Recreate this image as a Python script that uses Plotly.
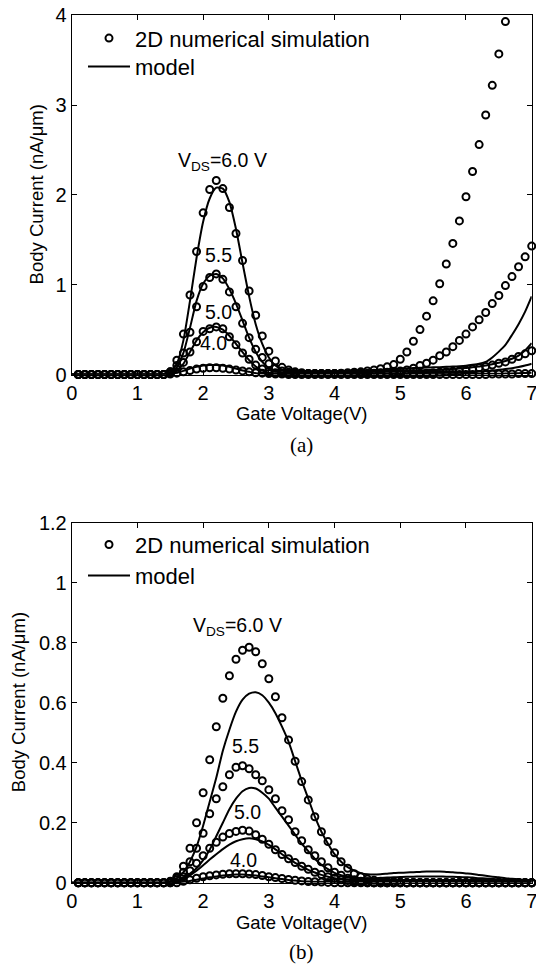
import plotly.graph_objects as go

# ---------------- data ----------------
GATE_SIM = [0.1, 0.2, 0.3, 0.4, 0.5, 0.6, 0.7, 0.8, 0.9, 1.0,
            1.1, 1.2, 1.3, 1.4, 1.5, 1.6, 1.7, 1.8, 1.9, 2.0,
            2.1, 2.2, 2.3, 2.4, 2.5, 2.6, 2.7, 2.8, 2.9, 3.0,
            3.1, 3.2, 3.3, 3.4, 3.5, 3.6, 3.7, 3.8, 3.9, 4.0,
            4.1, 4.2, 4.3, 4.4, 4.5, 4.6, 4.7, 4.8, 4.9, 5.0,
            5.1, 5.2, 5.3, 5.4, 5.5, 5.6, 5.7, 5.8, 5.9, 6.0,
            6.1, 6.2, 6.3, 6.4, 6.5, 6.6, 6.7, 6.8, 6.9, 7.0]
GATE_MODEL = [0.0] + GATE_SIM

VDS_LABELS = ["6.0", "5.5", "5.0", "4.0"]

# panel (a): simulation
A_SIM_60 = [0, 0, 0, 0, 0, 0, 0, 0, 0, 0,
            0, 0, 0, 0, 0.03, 0.16, 0.45, 0.885, 1.37, 1.80,
            2.06, 2.16, 2.07, 1.86, 1.57, 1.27, 0.93, 0.66, 0.43, 0.26,
            0.15, 0.08, 0.05, 0.03, 0.02, 0.01, 0.01, 0.01, 0.01, 0.01,
            0.015, 0.02, 0.025, 0.03, 0.04, 0.05, 0.065, 0.085, 0.11, 0.17,
            0.25, 0.37, 0.50, 0.65, 0.82, 1.01, 1.23, 1.46, 1.71, 1.98,
            2.26, 2.56, 2.89, 3.22, 3.57, 3.93, 4.30, 4.68, 5.07, 5.47]
A_SIM_55 = [0, 0, 0, 0, 0, 0, 0, 0, 0, 0,
            0, 0, 0, 0, 0.03, 0.10, 0.24, 0.47, 0.755, 0.98,
            1.08, 1.12, 1.06, 0.92, 0.755, 0.57, 0.41, 0.28, 0.19, 0.12,
            0.07, 0.04, 0.025, 0.015, 0.01, 0.01, 0.01, 0.01, 0.01, 0.01,
            0.01, 0.01, 0.01, 0.01, 0.01, 0.015, 0.02, 0.025, 0.03, 0.04,
            0.05, 0.07, 0.10, 0.125, 0.16, 0.21, 0.25, 0.31, 0.38, 0.45,
            0.53, 0.61, 0.69, 0.79, 0.88, 0.99, 1.09, 1.20, 1.31, 1.43]
A_SIM_50 = [0, 0, 0, 0, 0, 0, 0, 0, 0, 0,
            0, 0, 0, 0, 0.02, 0.06, 0.135, 0.25, 0.365, 0.48,
            0.51, 0.53, 0.51, 0.42, 0.33, 0.24, 0.17, 0.105, 0.06, 0.035,
            0.02, 0.01, 0.01, 0.01, 0.01, 0.01, 0.01, 0.01, 0.01, 0.01,
            0.01, 0.01, 0.01, 0.01, 0.01, 0.01, 0.01, 0.01, 0.01, 0.01,
            0.01, 0.01, 0.01, 0.015, 0.02, 0.025, 0.03, 0.035, 0.04, 0.05,
            0.06, 0.075, 0.09, 0.105, 0.125, 0.14, 0.17, 0.20, 0.23, 0.265]
A_SIM_40 = [0, 0, 0, 0, 0, 0, 0, 0, 0, 0,
            0, 0, 0, 0, 0.005, 0.015, 0.03, 0.045, 0.06, 0.07,
            0.075, 0.075, 0.07, 0.06, 0.05, 0.04, 0.03, 0.02, 0.015, 0.01,
            0.005, 0.005, 0, 0, 0, 0, 0, 0, 0, 0,
            0, 0, 0, 0, 0, 0, 0, 0, 0, 0,
            0, 0, 0, 0, 0, 0, 0, 0, 0, 0,
            0, 0, 0, 0.005, 0.005, 0.005, 0.005, 0.01, 0.01, 0.01]

# panel (a): model
A_MOD_60 = [0,
            0, 0, 0, 0, 0, 0, 0, 0, 0, 0,
            0, 0, 0, 0.005, 0.03, 0.12, 0.38, 0.82, 1.30, 1.70,
            1.96, 2.08, 2.07, 1.92, 1.62, 1.24, 0.87, 0.56, 0.34, 0.19,
            0.10, 0.055, 0.035, 0.025, 0.02, 0.02, 0.022, 0.024, 0.026, 0.028,
            0.03, 0.033, 0.036, 0.04, 0.044, 0.048, 0.052, 0.056, 0.06, 0.064,
            0.068, 0.072, 0.075, 0.078, 0.08, 0.082, 0.085, 0.088, 0.092, 0.098,
            0.108, 0.12, 0.14, 0.19, 0.255, 0.33, 0.44, 0.56, 0.70, 0.87]
A_MOD_55 = [0,
            0, 0, 0, 0, 0, 0, 0, 0, 0, 0,
            0, 0, 0, 0, 0.02, 0.08, 0.24, 0.52, 0.82, 1.01,
            1.10, 1.12, 1.07, 0.95, 0.79, 0.60, 0.41, 0.25, 0.14, 0.07,
            0.035, 0.02, 0.016, 0.015, 0.015, 0.016, 0.017, 0.018, 0.019, 0.02,
            0.021, 0.022, 0.024, 0.026, 0.028, 0.03, 0.032, 0.034, 0.036, 0.038,
            0.04, 0.042, 0.045, 0.048, 0.05, 0.053, 0.057, 0.061, 0.066, 0.072,
            0.08, 0.09, 0.10, 0.115, 0.13, 0.15, 0.175, 0.21, 0.27, 0.35]
A_MOD_50 = [0,
            0, 0, 0, 0, 0, 0, 0, 0, 0, 0,
            0, 0, 0, 0, 0.01, 0.04, 0.12, 0.25, 0.38, 0.47,
            0.52, 0.53, 0.50, 0.43, 0.34, 0.25, 0.16, 0.09, 0.045, 0.02,
            0.012, 0.01, 0.01, 0.01, 0.01, 0.01, 0.01, 0.01, 0.01, 0.01,
            0.01, 0.01, 0.01, 0.011, 0.011, 0.012, 0.012, 0.013, 0.013, 0.014,
            0.015, 0.016, 0.017, 0.018, 0.019, 0.02, 0.021, 0.022, 0.024, 0.026,
            0.029, 0.033, 0.038, 0.044, 0.052, 0.06, 0.07, 0.083, 0.10, 0.12]
A_MOD_40 = [0,
            0, 0, 0, 0, 0, 0, 0, 0, 0, 0,
            0, 0, 0, 0, 0.005, 0.02, 0.04, 0.065, 0.085, 0.10,
            0.105, 0.105, 0.10, 0.085, 0.065, 0.045, 0.03, 0.015, 0.008, 0.004,
            0.003, 0.003, 0.003, 0.003, 0.003, 0.003, 0.003, 0.003, 0.003, 0.003,
            0.003, 0.003, 0.003, 0.003, 0.003, 0.003, 0.003, 0.003, 0.003, 0.003,
            0.004, 0.004, 0.004, 0.004, 0.004, 0.004, 0.004, 0.004, 0.004, 0.004,
            0.005, 0.006, 0.007, 0.008, 0.009, 0.01, 0.012, 0.014, 0.017, 0.02]

# panel (b): simulation
B_SIM_60 = [0, 0, 0, 0, 0, 0, 0, 0, 0, 0,
            0, 0, 0, 0, 0, 0.02, 0.055, 0.115, 0.20, 0.30,
            0.41, 0.52, 0.615, 0.69, 0.745, 0.775, 0.785, 0.77, 0.73, 0.68,
            0.62, 0.55, 0.476, 0.405, 0.337, 0.276, 0.22, 0.17, 0.137, 0.10,
            0.07, 0.048, 0.03, 0.02, 0.012, 0.008, 0.005, 0.004, 0.003, 0.002,
            0, 0, 0, 0, 0, 0, 0, 0, 0, 0,
            0, 0, 0, 0, 0, 0, 0, 0, 0, 0]
B_SIM_55 = [0, 0, 0, 0, 0, 0, 0, 0, 0, 0,
            0, 0, 0, 0, 0.005, 0.015, 0.035, 0.07, 0.115, 0.165,
            0.23, 0.28, 0.32, 0.36, 0.385, 0.39, 0.38, 0.36, 0.34, 0.31,
            0.28, 0.24, 0.21, 0.17, 0.14, 0.11, 0.09, 0.07, 0.05, 0.035,
            0.025, 0.015, 0.01, 0.005, 0.003, 0, 0, 0, 0, 0,
            0, 0, 0, 0, 0, 0, 0, 0, 0, 0,
            0, 0, 0, 0, 0, 0, 0, 0, 0, 0]
B_SIM_50 = [0, 0, 0, 0, 0, 0, 0, 0, 0, 0,
            0, 0, 0, 0, 0.003, 0.01, 0.02, 0.04, 0.065, 0.09,
            0.115, 0.135, 0.152, 0.164, 0.171, 0.175, 0.172, 0.16, 0.145, 0.128,
            0.11, 0.094, 0.08, 0.067, 0.055, 0.045, 0.035, 0.027, 0.02, 0.015,
            0.01, 0.007, 0.004, 0.002, 0, 0, 0, 0, 0, 0,
            0, 0, 0, 0, 0, 0, 0, 0, 0, 0,
            0, 0, 0, 0, 0, 0, 0, 0, 0, 0]
B_SIM_40 = [0, 0, 0, 0, 0, 0, 0, 0, 0, 0,
            0, 0, 0, 0, 0, 0, 0.005, 0.01, 0.015, 0.02,
            0.023, 0.026, 0.028, 0.03, 0.03, 0.03, 0.029, 0.027, 0.024, 0.02,
            0.017, 0.014, 0.011, 0.008, 0.006, 0.004, 0.003, 0.002, 0.001, 0,
            0, 0, 0, 0, 0, 0, 0, 0, 0, 0,
            0, 0, 0, 0, 0, 0, 0, 0, 0, 0,
            0, 0, 0, 0, 0, 0, 0, 0, 0, 0]

# panel (b): model
B_MOD_60 = [0,
            0, 0, 0, 0, 0, 0, 0, 0, 0, 0,
            0, 0, 0, 0, 0.005, 0.015, 0.035, 0.07, 0.12, 0.19,
            0.27, 0.35, 0.44, 0.51, 0.57, 0.61, 0.63, 0.635, 0.625, 0.60,
            0.565, 0.52, 0.47, 0.405, 0.34, 0.28, 0.22, 0.17, 0.13, 0.095,
            0.07, 0.052, 0.04, 0.032, 0.028, 0.027, 0.028, 0.03, 0.032, 0.033,
            0.034, 0.035, 0.036, 0.037, 0.037, 0.037, 0.036, 0.035, 0.033, 0.031,
            0.029, 0.026, 0.023, 0.02, 0.018, 0.015, 0.013, 0.011, 0.009, 0.008]
B_MOD_55 = [0,
            0, 0, 0, 0, 0, 0, 0, 0, 0, 0,
            0, 0, 0, 0, 0.003, 0.008, 0.018, 0.03, 0.048, 0.075,
            0.11, 0.155, 0.20, 0.245, 0.28, 0.305, 0.316, 0.314, 0.30, 0.28,
            0.25, 0.22, 0.19, 0.16, 0.13, 0.105, 0.08, 0.06, 0.045, 0.033,
            0.025, 0.02, 0.017, 0.015, 0.015, 0.015, 0.016, 0.017, 0.018, 0.019,
            0.02, 0.02, 0.021, 0.021, 0.021, 0.021, 0.02, 0.02, 0.019, 0.018,
            0.017, 0.015, 0.014, 0.012, 0.011, 0.01, 0.009, 0.008, 0.007, 0.006]
B_MOD_50 = [0,
            0, 0, 0, 0, 0, 0, 0, 0, 0, 0,
            0, 0, 0, 0, 0.002, 0.005, 0.012, 0.025, 0.04, 0.058,
            0.077, 0.095, 0.112, 0.127, 0.138, 0.145, 0.148, 0.145, 0.138, 0.126,
            0.111, 0.095, 0.08, 0.066, 0.054, 0.043, 0.034, 0.026, 0.02, 0.015,
            0.012, 0.01, 0.009, 0.008, 0.008, 0.008, 0.008, 0.008, 0.008, 0.008,
            0.008, 0.008, 0.008, 0.008, 0.008, 0.008, 0.008, 0.008, 0.008, 0.008,
            0.007, 0.007, 0.006, 0.006, 0.006, 0.005, 0.005, 0.005, 0.004, 0.004]
B_MOD_40 = [0,
            0, 0, 0, 0, 0, 0, 0, 0, 0, 0,
            0, 0, 0, 0, 0, 0, 0.003, 0.006, 0.01, 0.014,
            0.018, 0.021, 0.024, 0.026, 0.027, 0.027, 0.026, 0.024, 0.021, 0.018,
            0.015, 0.012, 0.009, 0.007, 0.005, 0.004, 0.003, 0.003, 0.003, 0.003,
            0.003, 0.003, 0.003, 0.003, 0.003, 0.003, 0.003, 0.003, 0.003, 0.003,
            0.003, 0.003, 0.003, 0.003, 0.003, 0.003, 0.003, 0.003, 0.003, 0.003,
            0.002, 0.002, 0.002, 0.002, 0.002, 0.002, 0.002, 0.002, 0.002, 0.002]

X_TICKS = [0, 1, 2, 3, 4, 5, 6, 7]
A_Y_TICKS = [0, 1, 2, 3, 4]
B_Y_TICKS = [0, 0.2, 0.4, 0.6, 0.8, 1, 1.2]
A_YMAX = 4
B_YMAX = 1.2

# label positions (data coords)
A_LABEL_POS = [(2.29, 2.37), (2.24, 1.33), (2.24, 0.70), (2.16, 0.35)]
B_LABEL_POS = [(2.52, 0.853), (2.64, 0.456), (2.68, 0.237), (2.61, 0.076)]

# ---------------- figure ----------------
W, H = 536, 967
FONT = "Liberation Sans, Arial, Helvetica, sans-serif"

fig = go.Figure()

panels = [
    dict(xa="x", ya="y", legs=("legend", "legend2"), ymax=A_YMAX,
         sims=[A_SIM_60, A_SIM_55, A_SIM_50, A_SIM_40],
         mods=[A_MOD_60, A_MOD_55, A_MOD_50, A_MOD_40],
         labels=A_LABEL_POS),
    dict(xa="x2", ya="y2", legs=("legend3", "legend4"), ymax=B_YMAX,
         sims=[B_SIM_60, B_SIM_55, B_SIM_50, B_SIM_40],
         mods=[B_MOD_60, B_MOD_55, B_MOD_50, B_MOD_40],
         labels=B_LABEL_POS),
]

for p in panels:
    for i, s in enumerate(p["sims"]):
        xs = [x for x, v in zip(GATE_SIM, s) if v <= p["ymax"]]
        ys = [v for v in s if v <= p["ymax"]]
        fig.add_trace(go.Scatter(
            x=xs, y=ys, mode="markers", xaxis=p["xa"], yaxis=p["ya"],
            name="2D numerical simulation", legend=p["legs"][0],
            showlegend=(i == 0), cliponaxis=False,
            marker=dict(symbol="circle-open", size=7, color="black",
                        line=dict(width=2, color="black"))))
    for i, m in enumerate(p["mods"]):
        fig.add_trace(go.Scatter(
            x=GATE_MODEL, y=m, mode="lines", xaxis=p["xa"], yaxis=p["ya"],
            name="model", legend=p["legs"][1], showlegend=(i == 0),
            line=dict(color="black", width=2, shape="spline", smoothing=0.6)))

x_dom = [71.7 / W, 531.7 / W]
a_top, a_bot = 15.3, 374.5
b_top, b_bot = 522.7, 882.7
a_dom = [1 - a_bot / H, 1 - a_top / H]
b_dom = [1 - b_bot / H, 1 - b_top / H]

axis_common = dict(showline=True, linecolor="black", linewidth=1, mirror="ticks",
                   ticks="inside", ticklen=5, tickwidth=1, tickcolor="black",
                   showgrid=False, zeroline=False, automargin=False,
                   ticklabeloverflow="allow",
                   tickfont=dict(family=FONT, size=20, color="black"))
TITLE_FONT = dict(family=FONT, size=18.5, color="black")

def legend_at(y_px):
    return dict(x=83 / W, y=1 - y_px / H, xanchor="left", yanchor="middle",
                bgcolor="rgba(0,0,0,0)", borderwidth=0, itemwidth=42,
                font=dict(family=FONT, size=22, color="black"))

fig.update_layout(
    width=W, height=H,
    margin=dict(l=0, r=0, t=0, b=0, pad=0, autoexpand=False),
    paper_bgcolor="white", plot_bgcolor="white",
    font=dict(family=FONT, color="black"),
    xaxis=dict(domain=x_dom, anchor="y", range=[0, 7], tickvals=X_TICKS,
               ticklabelstandoff=0,
               title=dict(text="Gate Voltage(V)", font=TITLE_FONT, standoff=4),
               **axis_common),
    yaxis=dict(domain=a_dom, anchor="x", range=[0, A_YMAX], tickvals=A_Y_TICKS,
               **axis_common),
    xaxis2=dict(domain=x_dom, anchor="y2", range=[0, 7], tickvals=X_TICKS,
                ticklabelstandoff=0,
                title=dict(text="Gate Voltage(V)", font=TITLE_FONT, standoff=4),
                **axis_common),
    yaxis2=dict(domain=b_dom, anchor="x2", range=[0, B_YMAX], tickvals=B_Y_TICKS,
                **axis_common),
    legend=legend_at(a_top + 23),
    legend2=legend_at(a_top + 51.5),
    legend3=legend_at(b_top + 22),
    legend4=legend_at(b_top + 53),
)

# y-axis titles, placed like the reference (left of the tick labels)
for cx, cy in [(36.5, (a_top + a_bot) / 2), (18.5, (b_top + b_bot) / 2)]:
    fig.add_annotation(x=cx / W, y=1 - cy / H, xref="paper", yref="paper",
                       text="Body Current (nA/μm)", textangle=-90, showarrow=False,
                       xanchor="center", yanchor="middle", font=TITLE_FONT)

for p in panels:
    for i, (lx, ly) in enumerate(p["labels"]):
        txt = ("V<sub>DS</sub>=" + VDS_LABELS[i] + " V") if i == 0 else VDS_LABELS[i]
        fig.add_annotation(x=lx, y=ly, xref=p["xa"], yref=p["ya"], text=txt,
                           showarrow=False, font=dict(family=FONT, size=19.5, color="black"))

CAP_FONT = dict(family="Liberation Serif, DejaVu Serif, serif", size=21, color="black")
fig.add_annotation(x=301.7 / W, y=1 - 445 / H, xref="paper", yref="paper", text="(a)",
                   showarrow=False, yanchor="middle", font=CAP_FONT)
fig.add_annotation(x=301.7 / W, y=1 - 952 / H, xref="paper", yref="paper", text="(b)",
                   showarrow=False, yanchor="middle", font=CAP_FONT)

fig.write_html("out.html", config={"displayModeBar": False},
               post_script="document.body.style.margin='0';document.body.style.overflow='hidden';")
